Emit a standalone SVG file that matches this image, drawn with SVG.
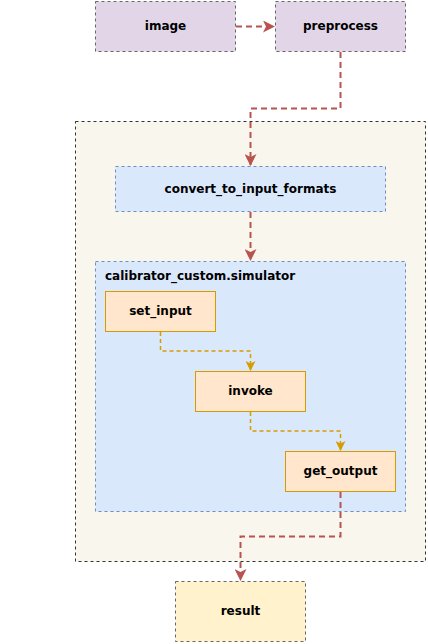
<svg xmlns="http://www.w3.org/2000/svg" width="428" height="644" viewBox="0 0 428 644">
<style>
text{font-family:"DejaVu Sans",sans-serif;font-weight:bold;font-size:12px;fill:#000;text-anchor:middle;dominant-baseline:central}
.purple{fill:#e1d5e7;stroke:#666;stroke-dasharray:3 3;stroke-width:1}
.blue{fill:#dae8fc;stroke:#6c8ebf;stroke-dasharray:3 3;stroke-width:1}
.orange{fill:#ffe6cc;stroke:#d79b00;stroke-width:1}
.yellow{fill:#fff2cc;stroke:#666;stroke-dasharray:3 3;stroke-width:1}
.red{fill:none;stroke:#b85450;stroke-width:2;stroke-dasharray:6 4}
.gold{fill:none;stroke:#d79b00;stroke-width:1.5;stroke-dasharray:4 3}
</style>
<defs>
<marker id="ar" markerWidth="12" markerHeight="12" refX="11" refY="6" orient="auto" markerUnits="userSpaceOnUse">
<path d="M0,0 L12,6 L0,12 L3,6 Z" fill="#b85450"/>
</marker>
<marker id="ao" markerWidth="10" markerHeight="10" refX="9" refY="5" orient="auto" markerUnits="userSpaceOnUse">
<path d="M0,0 L10,5 L0,10 L2.5,5 Z" fill="#d79b00"/>
</marker>
</defs>
<g id="cluster_outer"><rect x="75.5" y="121.5" width="350" height="440" fill="#f9f6ee" stroke="#333" stroke-dasharray="3 3"/></g>
<g id="cluster_sim"><rect class="blue" x="95.5" y="261.5" width="310" height="250"/><text x="105" y="276" style="text-anchor:start">calibrator_custom.simulator</text></g>
<g id="image"><rect class="purple" x="95.5" y="1.5" width="140" height="50"/><text x="165.5" y="26">image</text></g>
<g id="preprocess"><rect class="purple" x="275.5" y="1.5" width="130" height="50"/><text x="340.5" y="26">preprocess</text></g>
<g id="convert"><rect class="blue" x="115.5" y="166.5" width="270" height="45"/><text x="250.5" y="189">convert_to_input_formats</text></g>
<g id="set_input"><rect class="orange" x="105.5" y="291.5" width="110" height="40"/><text x="160.5" y="311">set_input</text></g>
<g id="invoke"><rect class="orange" x="195.5" y="371.5" width="110" height="40"/><text x="250.5" y="391">invoke</text></g>
<g id="get_output"><rect class="orange" x="285.5" y="451.5" width="110" height="40"/><text x="340.5" y="471">get_output</text></g>
<g id="result"><rect class="yellow" x="175.5" y="581.5" width="130" height="60"/><text x="240.5" y="611">result</text></g>
<g id="connectors">
<path class="red" d="M236,26.5 H274" marker-end="url(#ar)"/>
<path class="red" d="M340.5,52 V108.5 H250.5 V165" marker-end="url(#ar)"/>
<path class="red" d="M250.5,212 V260" marker-end="url(#ar)"/>
<path class="gold" d="M160.5,332 V351 H250.5 V370" marker-end="url(#ao)"/>
<path class="gold" d="M250.5,412 V431 H340.5 V450" marker-end="url(#ao)"/>
<path class="red" d="M340.5,492 V536.5 H240.5 V580" marker-end="url(#ar)"/>
</g>
</svg>
